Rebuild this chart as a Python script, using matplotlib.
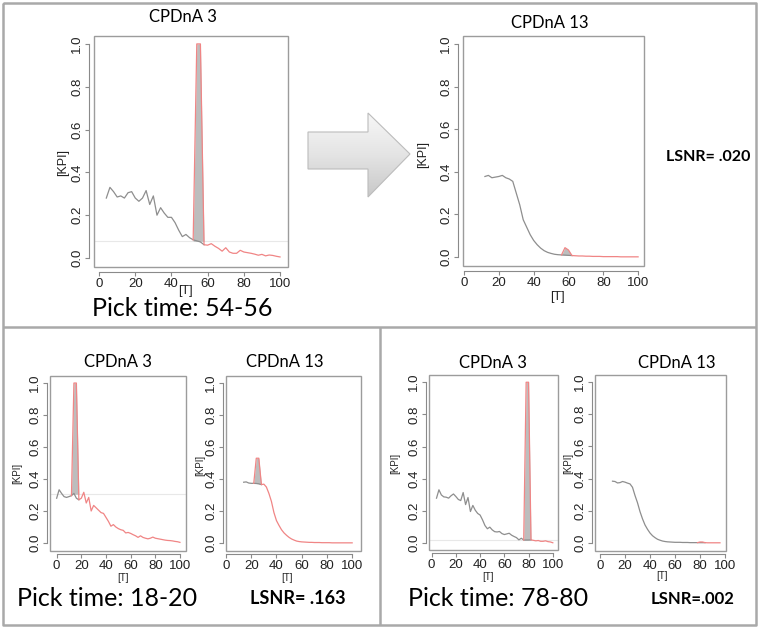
import numpy as np
import matplotlib
matplotlib.use("Agg")
import matplotlib.pyplot as plt
from matplotlib.patches import Rectangle, Polygon
from matplotlib.colors import LinearSegmentedColormap

plt.rcParams['font.family'] = ['Liberation Sans', 'DejaVu Sans']

W, H = 759, 627
GRAY = '#8e8e8e'
RED = '#f08585'
FILL = '#bdbdbd'

# ---- top: CPDnA 3, pick time 54-56
t_a3 = list(range(4, 101, 2))
k_a3 = [0.28, 0.33, 0.31, 0.285, 0.29, 0.28, 0.305, 0.31, 0.28, 0.265,
        0.28, 0.315, 0.25, 0.29, 0.2, 0.235, 0.21, 0.19, 0.19, 0.165,
        0.13, 0.1, 0.11, 0.095, 0.085, 0.08, 0.075, 0.062, 0.06, 0.067,
        0.055, 0.045, 0.032, 0.048, 0.028, 0.022, 0.022, 0.036, 0.028, 0.025,
        0.022, 0.018, 0.013, 0.017, 0.01, 0.014, 0.012, 0.008, 0.005]
spk_t_a3 = [52, 54, 56, 58]
spk_v_a3 = [0.085, 1.0, 1.0, 0.062]
thr_a3 = 0.078

# ---- top: CPDnA 13
t_a13 = list(range(12, 101, 2))
k_a13 = [0.378, 0.383, 0.372, 0.375, 0.378, 0.383, 0.372, 0.366, 0.355, 0.3,
         0.245, 0.175, 0.14, 0.105, 0.078, 0.058, 0.042, 0.03, 0.022, 0.017,
         0.013, 0.011, 0.01, 0.009, 0.008, 0.007, 0.006, 0.005, 0.005, 0.004,
         0.004, 0.003, 0.003, 0.003, 0.002, 0.002, 0.002, 0.002, 0.002, 0.001,
         0.001, 0.001, 0.001, 0.001, 0.001]
spk_t_a13 = [56, 58, 60, 62]
spk_v_a13 = [0.01, 0.044, 0.033, 0.007]

# ---- bottom left: CPDnA 3, pick time 18-20
t_b3 = list(range(0, 101, 2))
k_b3 = [0.28, 0.333, 0.31, 0.29, 0.285, 0.29, 0.296, 0.31, 0.28, 0.27,
        0.28, 0.317, 0.25, 0.285, 0.2, 0.235, 0.22, 0.205, 0.19, 0.185,
        0.16, 0.135, 0.105, 0.115, 0.1, 0.09, 0.083, 0.079, 0.063, 0.066,
        0.06, 0.052, 0.045, 0.035, 0.045, 0.035, 0.03, 0.026, 0.03, 0.037,
        0.03, 0.027, 0.024, 0.021, 0.018, 0.016, 0.015, 0.013, 0.01, 0.008,
        0.004]
spk_t_b3 = [12, 14, 16, 18]
spk_v_b3 = [0.296, 1.0, 1.0, 0.27]
thr_b3 = 0.305

# ---- bottom left: CPDnA 13
t_b13 = list(range(14, 101, 2))
k_b13 = [0.38, 0.382, 0.375, 0.373, 0.373, 0.372, 0.37, 0.365, 0.368, 0.35,
         0.31, 0.26, 0.19, 0.14, 0.11, 0.083, 0.063, 0.048, 0.035, 0.025,
         0.018, 0.012, 0.009, 0.007, 0.006, 0.005, 0.004, 0.004, 0.003, 0.003,
         0.003, 0.002, 0.002, 0.002, 0.002, 0.001, 0.001, 0.001, 0.001, 0.001,
         0.001, 0.001, 0.001, 0.001]
spk_t_b13 = [22, 24, 26, 28]
spk_v_b13 = [0.373, 0.53, 0.53, 0.37]

# ---- bottom right: CPDnA 3, pick time 78-80
t_c3 = list(range(4, 101, 2))
k_c3 = [0.28, 0.332, 0.3, 0.288, 0.286, 0.28, 0.295, 0.306, 0.29, 0.272,
        0.265, 0.315, 0.24, 0.284, 0.197, 0.235, 0.205, 0.185, 0.175, 0.145,
        0.11, 0.09, 0.1, 0.083, 0.072, 0.07, 0.073, 0.06, 0.054, 0.058,
        0.062, 0.05, 0.042, 0.035, 0.021, 0.031, 0.02, 0.02, 0.02, 0.021,
        0.018, 0.015, 0.017, 0.012, 0.012, 0.015, 0.01, 0.008, 0.003]
spk_t_c3 = [76, 78, 80, 82]
spk_v_c3 = [0.02, 1.0, 1.0, 0.021]
thr_c3 = 0.02

# ---- bottom right: CPDnA 13
t_c13 = list(range(10, 97, 2))
k_c13 = [0.384, 0.382, 0.373, 0.375, 0.382, 0.378, 0.372, 0.367, 0.346, 0.295,
         0.25, 0.195, 0.15, 0.112, 0.085, 0.062, 0.045, 0.033, 0.023, 0.017,
         0.012, 0.009, 0.007, 0.006, 0.005, 0.004, 0.004, 0.004, 0.003, 0.003,
         0.003, 0.002, 0.002, 0.002, 0.002, 0.002, 0.002, 0.002, 0.001, 0.001,
         0.001, 0.001, 0.001, 0.001]
spk_t_c13 = [78, 80, 82, 84]
spk_v_c13 = [0.002, 0.006, 0.006, 0.002]

xtick_vals = [0, 20, 40, 60, 80, 100]
ytick_vals = [0.0, 0.2, 0.4, 0.6, 0.8, 1.0]
ytick_labels = ['0.0', '0.2', '0.4', '0.6', '0.8', '1.0']

fig = plt.figure(figsize=(W / 100, H / 100), dpi=100)
bg = fig.add_axes([0, 0, 1, 1])
bg.axis('off')

# panel frames
for xs, ys in [([3, 756, 756, 3, 3], [3, 3, 625, 625, 3]),
               ([3, 756], [327, 327]),
               ([380, 380], [327, 625])]:
    bg.plot(xs, ys, color='#a9a9a9', lw=1.8, solid_capstyle='butt')

# big grey arrow
arrow_pts = [(308, 132), (368, 132), (368, 113), (410, 154), (368, 197),
             (368, 169), (308, 169)]
cmap = LinearSegmentedColormap.from_list('arr', ['#f7f7f7', '#e4e4e4', '#c8c8c8'])
grad = np.linspace(0, 1, 100).reshape(-1, 1)
im = bg.imshow(grad, cmap=cmap, extent=(308, 410, 197, 113), aspect='auto')
poly = Polygon(arrow_pts, closed=True, fc='none', ec='#bcbcbc', lw=0.8)
bg.add_patch(poly)
im.set_clip_path(poly)
bg.set_xlim(0, W)
bg.set_ylim(H, 0)


def panel(box, xr, yr, t, k, st, sv, thr, small):
    x0, y0, x1, y1 = box
    ax = fig.add_axes([x0 / W, 1 - y1 / H, (x1 - x0) / W, (y1 - y0) / H])
    t = np.array(t)
    k = np.array(k)
    st = np.array(st)
    sv = np.array(sv)
    if thr is None:
        lower = np.interp(st, t, k)
    else:
        lower = np.full(len(st), thr)
        ax.axhline(thr, color='#e8e8e8', lw=0.8, zorder=1)
    ax.fill_between(st, lower, np.maximum(sv, lower), color=FILL, lw=0, zorder=2)
    g = t <= st[-1]
    ax.plot(t[g], k[g], color=GRAY, lw=0.9, zorder=3)
    r = t >= st[-1]
    ax.plot(np.r_[st, t[r]], np.r_[sv, k[r]], color=RED, lw=0.9, zorder=4)
    ax.set_xlim(*xr)
    ax.set_ylim(*yr)
    for s in ['top', 'right']:
        ax.spines[s].set_visible(False)
    off = 2.2 if small else 3.6
    for s in ['left', 'bottom']:
        ax.spines[s].set_position(('outward', off))
        ax.spines[s].set_color('#8a8a8a')
        ax.spines[s].set_linewidth(0.8)
    ax.spines['left'].set_bounds(0, 1)
    ax.spines['bottom'].set_bounds(0, 100)
    ax.add_patch(Rectangle((0, 0), 1, 1, transform=ax.transAxes, fill=False,
                           ec='#9c9c9c', lw=1.0, clip_on=False, zorder=5))
    ax.set_xticks(xtick_vals)
    ax.set_xticklabels([str(v) for v in xtick_vals])
    ax.set_yticks(ytick_vals)
    ax.set_yticklabels(ytick_labels, rotation=90, va='center')
    ax.tick_params(length=3, width=0.8, color='#8a8a8a', labelsize=9.5,
                   labelcolor='#222222', pad=1.2)
    return ax


panel((94, 36, 288, 267), (-2.8, 104.4), (-0.042, 1.037),
      t_a3, k_a3, spk_t_a3, spk_v_a3, thr_a3, False)
panel((463, 36, 644, 266), (-0.6, 103.4), (-0.042, 1.037),
      t_a13, k_a13, spk_t_a13, spk_v_a13, None, False)
panel((50, 376, 186, 551), (-5.4, 104.9), (-0.05, 1.044),
      t_b3, k_b3, spk_t_b3, spk_v_b3, thr_b3, True)
panel((226, 376, 361, 551), (2.1, 107), (-0.05, 1.044),
      t_b13, k_b13, spk_t_b13, spk_v_b13, None, True)
panel((429, 375, 558, 550), (-2.2, 104.3), (-0.042, 1.045),
      t_c3, k_c3, spk_t_c3, spk_v_c3, thr_c3, True)
panel((595, 375, 726, 551), (-4, 100.8), (-0.05, 1.044),
      t_c13, k_c13, spk_t_c13, spk_v_c13, None, True)

cal = ['Lato', 'DejaVu Sans']
# titles
for x, y, s in [(183, 17, 'CPDnA 3'), (550, 23, 'CPDnA 13'),
                (118, 362, 'CPDnA 3'), (285, 362, 'CPDnA 13'),
                (493, 363, 'CPDnA 3'), (677, 363, 'CPDnA 13')]:
    bg.text(x, y, s, ha='center', va='center', fontsize=12, family=cal)

# axis labels
for x, y, fs in [(63, 163, 9), (423, 155, 9), (17, 473, 7),
                 (200, 465, 7), (395, 463, 7), (568, 463, 7)]:
    bg.text(x, y, '[KPI]', ha='center', va='center', rotation=90, fontsize=fs,
            color='#222222')
for x, y, fs in [(185, 291, 9), (557, 297, 9), (123, 578, 7),
                 (287, 578, 7), (488, 577, 7), (662, 576, 7)]:
    bg.text(x, y, '[T]', ha='center', va='center', fontsize=fs, color='#222222')

# pick times and LSNR
for x, y, s in [(182, 309, 'Pick time: 54-56'), (107, 598, 'Pick time: 18-20'),
                (498, 598, 'Pick time: 78-80')]:
    bg.text(x, y, s, ha='center', va='center', fontsize=18, family=cal)
for x, y, s, fs in [(708, 157, 'LSNR= .020', 11.5), (298, 599, 'LSNR= .163', 13),
                    (693, 599, 'LSNR=.002', 12)]:
    bg.text(x, y, s, ha='center', va='center', fontsize=fs, family=cal,
            fontweight='bold')

fig.savefig('out.png', dpi=100)
